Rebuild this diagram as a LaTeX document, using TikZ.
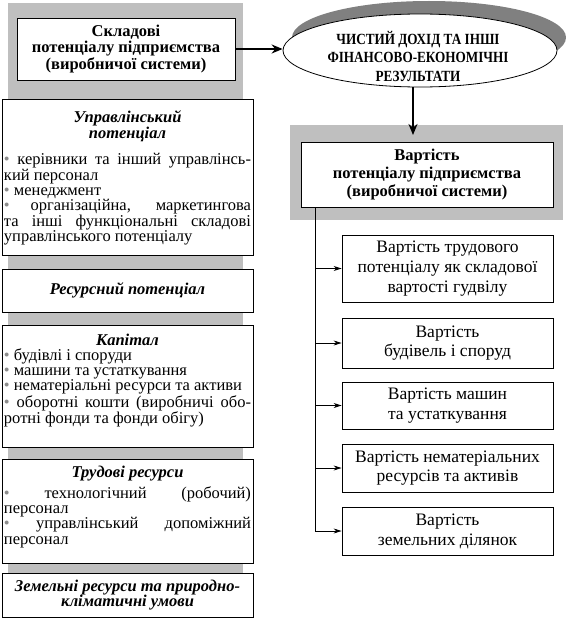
\documentclass[tikz,border=0pt]{standalone}
\usepackage{fontspec}
\setmainfont{Liberation Serif}
\newfontfamily\condfont[FakeStretch=0.85]{Liberation Serif}
\usetikzlibrary{arrows.meta,shapes.geometric}
\hyphenpenalty=10000
\exhyphenpenalty=10000
\newcommand\bul{\textcolor{black!45}{•}\ }
\newcommand\hd[1]{{\centering\fontsize{16.5}{16.5}\selectfont\bfseries\itshape #1\par}}
\tikzset{
  band/.style={fill=black!25, inner sep=0pt},
  lbox/.style={draw, line width=0.8pt, fill=white, minimum width=251pt, inner sep=0pt},
  ltext/.style={text width=247pt, align=justify, inner sep=0pt, anchor=base,
    font=\fontsize{16.5}{15.3}\selectfont},
  lhead/.style={lbox, align=center, font=\fontsize{16.5}{15.4}\selectfont\bfseries\itshape},
  rbox/.style={draw, line width=0.8pt, fill=white, minimum width=211pt, inner sep=0pt,
    align=center, font=\fontsize{17.5}{19.8}\selectfont},
  mainbox/.style={draw, line width=0.8pt, fill=white, inner sep=0pt, align=center,
    font=\fontsize{16.5}{16.5}\selectfont\bfseries},
  bigarrow/.style={line width=2.6pt, -{Stealth[length=11pt,width=9pt]}},
  smallarrow/.style={line width=0.8pt, -{Stealth[length=8pt,width=5pt]}},
}
\begin{document}
\begin{tikzpicture}[x=1pt,y=-1pt]
\useasboundingbox (0,0) rectangle (565,618);
% grey backgrounds
\fill[band] (8,3) rectangle (243,573);
\node[band, minimum width=273pt, minimum height=95pt] (vartbg) at (426.5,172.5) {};

% left column
\node[mainbox, minimum width=218pt, minimum height=62pt] (skl) at (126,49)
  {Складові\\потенціалу підприємства\\(виробничої системи)};
\node[lbox, minimum height=156pt] (upr) at (127.5,177) {};
\node[ltext] (uprtext) at (127.5,122) {\hd{Управлінський\\потенціал}\vspace{11pt}\bul керівники та інший управлінсь-\linebreak кий персонал\\\bul менеджмент\\\bul організаційна, маркетингова\linebreak та інші функціональні складові\linebreak управлінського потенціалу};
\node[lhead, minimum height=43pt] (res) at (127.5,290.5) {Ресурсний потенціал};
\node[lbox, minimum height=122pt] (kap) at (127.5,386) {};
\node[ltext] (kaptext) at (127.5,345) {\hd{Капітал}\bul будівлі і споруди\\\bul машини та устаткування\\\bul нематеріальні ресурси та активи\\\bul оборотні кошти (виробничі обо-\linebreak ротні фонди та фонди обігу)};
\node[lbox, minimum height=104pt] (trud) at (127.5,511) {};
\node[ltext] (trudtext) at (127.5,477) {\hd{Трудові ресурси}\vspace{5pt}\bul технологічний (робочий)\linebreak персонал\\\bul управлінський допоміжний\linebreak персонал};
\node[lhead, minimum height=44pt] (zem) at (127.5,595) {Земельні ресурси та природно-\\кліматичні умови};

% result ellipse with its shadow
\fill[black!50] (429,37.5) ellipse [x radius=137pt, y radius=36.5pt];
\node[ellipse, draw, line width=0.8pt, fill=white, minimum width=274pt, minimum height=73pt, inner sep=0pt] (dohid) at (420,50.5) {};
\node[align=center, font=\condfont\fontsize{15.5}{18.5}\selectfont\bfseries] (dohidtext) at (418,56)
  {ЧИСТИЙ ДОХІД ТА ІНШІ\\ФІНАНСОВО-ЕКОНОМІЧНІ\\РЕЗУЛЬТАТИ};
\draw[bigarrow] (skl.east) -- (dohid.west |- skl.east);

% right column
\node[mainbox, minimum width=252pt, minimum height=65pt, font=\fontsize{16.5}{18}\selectfont\bfseries] (vart) at (427,174.5)
  {Вартість\\потенціалу підприємства\\(виробничої системи)};
\coordinate (tip) at (413,135);
\draw[bigarrow] (dohid.south -| tip) -- (tip);

\node[rbox, minimum height=67pt] (b1) at (447.5,268.5) {Вартість трудового\\потенціалу як складової\\вартості гудвілу};
\node[rbox, minimum height=50pt] (b2) at (447.5,343) {Вартість\\будівель і споруд};
\node[rbox, minimum height=47pt] (b3) at (447.5,405.5) {Вартість машин\\та устаткування};
\node[rbox, minimum height=48pt] (b4) at (447.5,468) {Вартість нематеріальних\\ресурсів та активів};
\node[rbox, minimum height=48pt] (b5) at (447.5,531) {Вартість\\земельних ділянок};

\coordinate (trunk) at ([xshift=15pt]vart.south west);
\draw[smallarrow] (trunk) |- (b5.west);
\foreach \b in {b1,b2,b3,b4}
  \draw[smallarrow] (trunk |- \b.west) -- (\b.west);
\end{tikzpicture}
\end{document}
